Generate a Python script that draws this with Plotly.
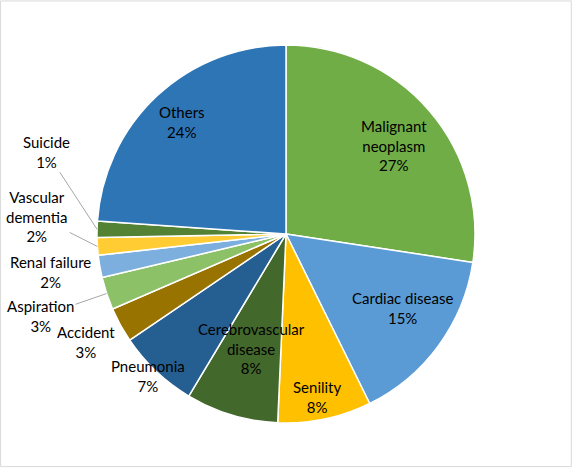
import math
import plotly.graph_objects as go

# Causes of death, share of total (%)
causes = [
    "Malignant<br>neoplasm", "Cardiac disease", "Senility",
    "Cerebrovascular<br>disease", "Pneumonia", "Accident", "Aspiration",
    "Renal failure", "Vascular<br>dementia", "Suicide", "Others",
]
shares = [27.4, 15.3, 8.0, 7.9, 6.9, 3.0, 2.8, 1.9, 1.5, 1.4, 23.9]
pct_labels = ["27%", "15%", "8%", "8%", "7%", "3%", "3%", "2%", "2%", "1%", "24%"]

colors = [
    "#70AD47", "#5B9BD5", "#FFC000", "#43682B", "#255E91", "#997300",
    "#8CC168", "#7CAFDD", "#FFCD33", "#548235", "#2E75B6",
]

# label placement (radius as fraction of pie radius, angle shift in degrees)
label_r = [0.74, 0.73, 0.88, 0.63, 1.05, 1.20, 1.37, 1.26, 1.32, 1.34, 0.81]
label_dtheta = [1.5, -3.9, 1.1, 0, 0.8, 0.4, -0.2, 0.7, 7.9, 17.5, 0]
leader = [False, False, False, False, False, False, True, False, True, True, False]

W, H = 573, 468
cx, cy, R = 286, 234, 189  # pie centre and radius in pixels

fig = go.Figure(go.Pie(
    labels=causes,
    values=shares,
    textinfo="none",
    sort=False,
    direction="clockwise",
    rotation=0,
    marker=dict(colors=colors, line=dict(color="white", width=1.5)),
    automargin=False,
    showlegend=False,
    hoverinfo="label+percent",
    domain=dict(x=[(cx - R) / W, (cx + R) / W], y=[1 - (cy + R) / H, 1 - (cy - R) / H]),
))

annotations = []
total = sum(shares)
cum = 0
for name, v, pct, rf, dt, ld in zip(causes, shares, pct_labels, label_r, label_dtheta, leader):
    mid = math.radians((cum + v / 2) / total * 360)
    cum += v
    th = mid + math.radians(dt)
    lx = cx + rf * R * math.sin(th)
    ly = cy - rf * R * math.cos(th)
    text = f"{name}<br>{pct}"
    font = dict(family="Lato", size=15, color="black")
    if ld:
        ex = cx + R * math.sin(mid)
        ey = cy - R * math.cos(mid)
        annotations.append(dict(
            x=ex / W, y=1 - ey / H, xref="paper", yref="paper",
            ax=lx - ex, ay=ly - ey, axref="pixel", ayref="pixel",
            text=text, showarrow=True, arrowhead=0, arrowwidth=1,
            arrowcolor="#A6A6A6", standoff=0, font=font, align="center",
        ))
    else:
        annotations.append(dict(
            x=lx / W, y=1 - ly / H, xref="paper", yref="paper",
            xanchor="center", yanchor="middle",
            text=text, showarrow=False, font=font, align="center",
        ))

fig.update_layout(
    width=W,
    height=H,
    margin=dict(l=0, r=0, t=0, b=0),
    paper_bgcolor="white",
    plot_bgcolor="white",
    annotations=annotations,
    shapes=[dict(type="rect", xref="paper", yref="paper", x0=0.001, y0=0.003,
                 x1=0.997, y1=0.998, line=dict(color="#D9D9D9", width=1))],
)

fig.write_html("out.html", config={"displayModeBar": False},
               post_script="document.body.style.margin='0';")
